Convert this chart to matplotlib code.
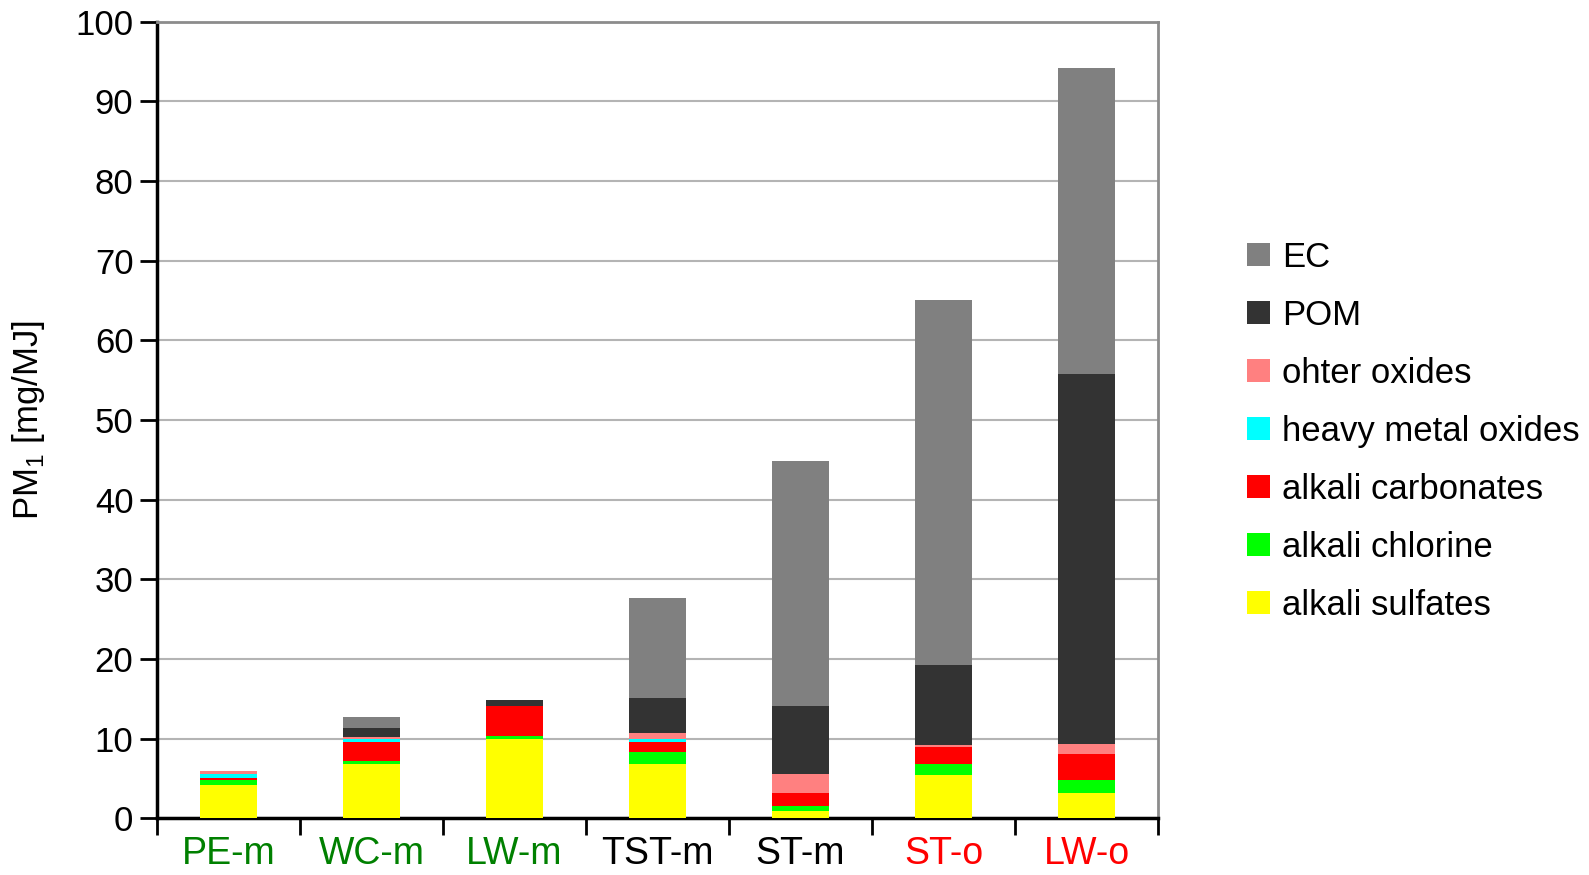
import matplotlib
matplotlib.use('Agg')
import matplotlib.pyplot as plt
import numpy as np

plt.rcParams['font.family'] = ['Liberation Sans', 'DejaVu Sans']
plt.rcParams['mathtext.fontset'] = 'custom'
plt.rcParams['mathtext.rm'] = 'Liberation Sans'

# samples and their label colours
samples = ['PE-m', 'WC-m', 'LW-m', 'TST-m', 'ST-m', 'ST-o', 'LW-o']
label_colors = ['#008000', '#008000', '#008000', 'black', 'black', '#ff0000', '#ff0000']

# PM1 components [mg/MJ], stacked bottom to top
alkali_sulfates = [4.1, 6.85, 10.0, 6.85, 0.95, 5.45, 3.1]
alkali_chlorine = [0.75, 0.35, 0.35, 1.4, 0.6, 1.35, 1.75]
alkali_carbonates = [0.25, 2.4, 3.75, 1.35, 1.55, 2.15, 3.15]
heavy_metal_oxides = [0.4, 0.4, 0.0, 0.4, 0.0, 0.0, 0.0]
other_oxides = [0.4, 0.2, 0.0, 0.7, 2.4, 0.25, 1.25]
pom = [0.0, 1.1, 0.75, 4.4, 8.6, 10.0, 46.5]
ec = [0.0, 1.4, 0.0, 12.5, 30.7, 45.9, 38.4]

series = [
    ('alkali sulfates', alkali_sulfates, '#ffff00'),
    ('alkali chlorine', alkali_chlorine, '#00ff00'),
    ('alkali carbonates', alkali_carbonates, '#ff0000'),
    ('heavy metal oxides', heavy_metal_oxides, '#00ffff'),
    ('ohter oxides', other_oxides, '#ff8080'),
    ('POM', pom, '#333333'),
    ('EC', ec, '#808080'),
]

fig = plt.figure(figsize=(15.89, 8.75), dpi=100)
ax = fig.add_axes([0.0988, 0.065, 0.630, 0.910])

x = np.arange(len(samples))
bottom = np.zeros(len(samples))
handles = []
for name, vals, col in series:
    h = ax.bar(x, vals, width=0.4, bottom=bottom, color=col, label=name, zorder=3)
    handles.append(h)
    bottom += np.array(vals)

ax.set_xlim(-0.5, len(samples) - 0.5)
ax.set_ylim(0, 100)
ax.set_yticks(np.arange(0, 101, 10))
ax.yaxis.grid(True, color='#b4b4b4', linewidth=1.5, zorder=0)
ax.set_axisbelow(True)

# category ticks sit on the boundaries, labels in the middle
ax.set_xticks(np.arange(-0.5, len(samples), 1.0))
ax.set_xticklabels([])
ax.set_xticks(x, minor=True)
ax.set_xticklabels(samples, minor=True, fontsize=27)
ax.tick_params(axis='x', which='minor', length=0, pad=13)
ax.tick_params(axis='x', which='major', length=12, width=2, direction='out')
ax.tick_params(axis='y', length=12, width=2, direction='out', labelsize=25, pad=5)
for lab, c in zip(ax.get_xticklabels(minor=True), label_colors):
    lab.set_color(c)

for s in ['left', 'bottom']:
    ax.spines[s].set_linewidth(2.5)
    ax.spines[s].set_color('black')
for s in ['right', 'top']:
    ax.spines[s].set_linewidth(2)
    ax.spines[s].set_color('#8c8c8c')

ax.set_ylabel('PM$_\\mathregular{1}$ [mg/MJ]', fontsize=25, labelpad=20)

leg = fig.legend(handles[::-1], [s[0] for s in series][::-1], loc='center left',
                 bbox_to_anchor=(0.776, 0.507), frameon=False, fontsize=25,
                 handlelength=0.65, handleheight=0.65, handletextpad=0.35,
                 labelspacing=0.72, borderaxespad=0)

fig.savefig('out.png', dpi=100)
